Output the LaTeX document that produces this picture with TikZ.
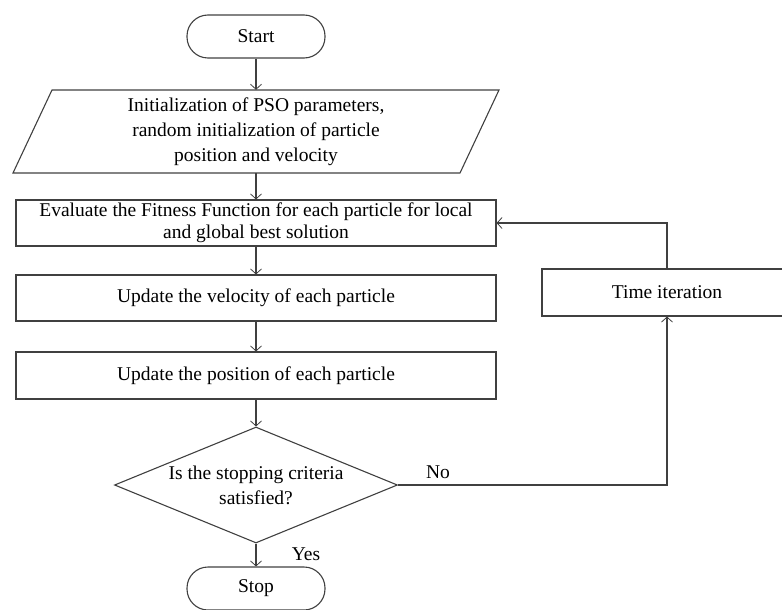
\documentclass[tikz,border=0pt]{standalone}
\usepackage{fontspec}
\setmainfont{Liberation Serif}
\usetikzlibrary{arrows.meta,shapes.geometric}
\begin{document}
\begin{tikzpicture}[x=1pt,y=-1pt,
  line/.style={draw=black!75,line width=1.1pt},
  arr/.style={draw=black!75,line width=1.1pt,-{Straight Barb[length=5pt,width=11pt,line width=0.8pt]}},
  txt/.style={font=\fontsize{19.5}{25}\selectfont,align=center,inner sep=0pt},
  procbox/.style={txt,line,rectangle,minimum width=480pt},
  term/.style={txt,line,rectangle,rounded corners=21pt,minimum width=138pt,minimum height=43pt},
  lbl/.style={font=\fontsize{19.5}{25}\selectfont,inner sep=0pt}
]
\useasboundingbox (0,0) rectangle (782,610);
\node[term] (start) at (256,36.5) {Start};
\draw[line] (13,173) -- (52,90) -- (499,90) -- (460,173) -- cycle;
\node[txt,minimum width=440pt,minimum height=83pt] (init) at (256,131.5)
  {Initialization of PSO parameters,\\random initialization of particle\\position and velocity};
\node[procbox,minimum height=46pt,font=\fontsize{19.5}{22}\selectfont] (eval) at (256,223)
  {Evaluate the Fitness Function for each particle for local\\and global best solution};
\node[procbox,minimum height=46pt] (vel) at (256,298) {Update the velocity of each particle};
\node[procbox,minimum height=47pt] (pos) at (256,375.5) {Update the position of each particle};
\node[txt,line,diamond,aspect=2.44,minimum width=283pt,minimum height=116pt] (dec) at (256,485)
  {Is the stopping criteria\\satisfied?};
\node[term] (stop) at (256,588.5) {Stop};
\node[procbox,minimum width=250pt,minimum height=47pt] (time) at (667,292.5) {Time iteration};
\draw[arr] (start) -- (init);
\draw[arr] (init) -- (eval);
\draw[arr] (eval) -- (vel);
\draw[arr] (vel) -- (pos);
\draw[arr] (pos) -- (dec);
\draw[arr] (dec) -- (stop);
\draw[arr] (dec.east) -| (time.south);
\draw[arr] (time.north) |- (eval.east);
\node[lbl] (yes) at (306,554) {Yes};
\node[lbl] (no) at (438,472) {No};
\end{tikzpicture}
\end{document}
